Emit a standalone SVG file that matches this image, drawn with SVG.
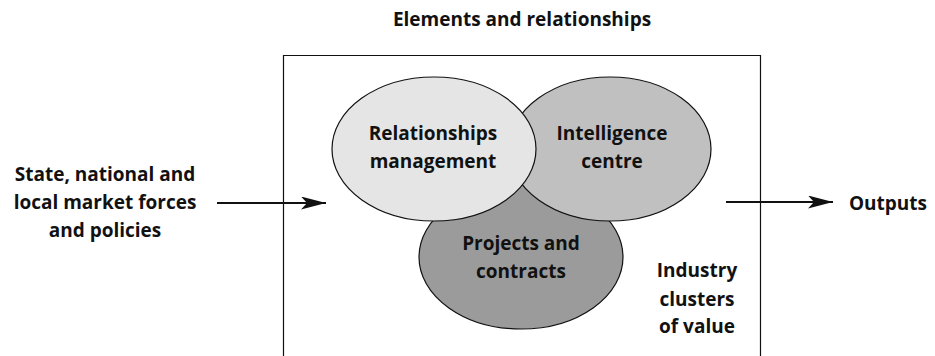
<svg xmlns="http://www.w3.org/2000/svg" width="935" height="356" viewBox="0 0 935 356">
<style>
text{font-family:"Open Sans",Lato,"Liberation Sans",sans-serif;font-weight:bold;font-size:19px;fill:#111;text-anchor:middle}
.e{stroke:#111;stroke-width:1.2}
.c{stroke:#111;stroke-width:2.2;fill:none}
</style>
<defs>
<marker id="ah" markerWidth="25" markerHeight="13" refX="25" refY="6.5" orient="auto" markerUnits="userSpaceOnUse">
<path d="M0,0 L25,6.5 L0,13 L6,6.5 Z" fill="#111"/>
</marker>
</defs>
<text x="522" y="26">Elements and relationships</text>
<g id="frame"><path d="M283.5,360 V55.5 H760.5 V360" fill="none" stroke="#111" stroke-width="1.2"/></g>
<g id="projects">
<ellipse class="e" cx="521" cy="257" rx="102" ry="72" fill="#9b9b9b"/>
<text x="521" y="250">Projects and</text>
<text x="521" y="278">contracts</text>
</g>
<g id="intelligence">
<ellipse class="e" cx="610" cy="149" rx="101" ry="72" fill="#c0c0c0"/>
<text x="612" y="140">Intelligence</text>
<text x="612" y="168">centre</text>
</g>
<g id="relationships">
<ellipse class="e" cx="434" cy="149" rx="102" ry="72" fill="#e5e5e5"/>
<text x="433" y="140">Relationships</text>
<text x="433" y="168">management</text>
</g>
<g id="inputs">
<text x="105" y="181">State, national and</text>
<text x="105" y="209">local market forces</text>
<text x="105" y="237">and policies</text>
</g>
<g id="industry">
<text x="697" y="277">Industry</text>
<text x="697" y="306">clusters</text>
<text x="697" y="333">of value</text>
</g>
<g id="outputs"><text x="888" y="210">Outputs</text></g>
<g id="connectors">
<line class="c" x1="217" y1="203" x2="326" y2="203" marker-end="url(#ah)"/>
<line class="c" x1="726" y1="202" x2="833" y2="202" marker-end="url(#ah)"/>
</g>
</svg>
